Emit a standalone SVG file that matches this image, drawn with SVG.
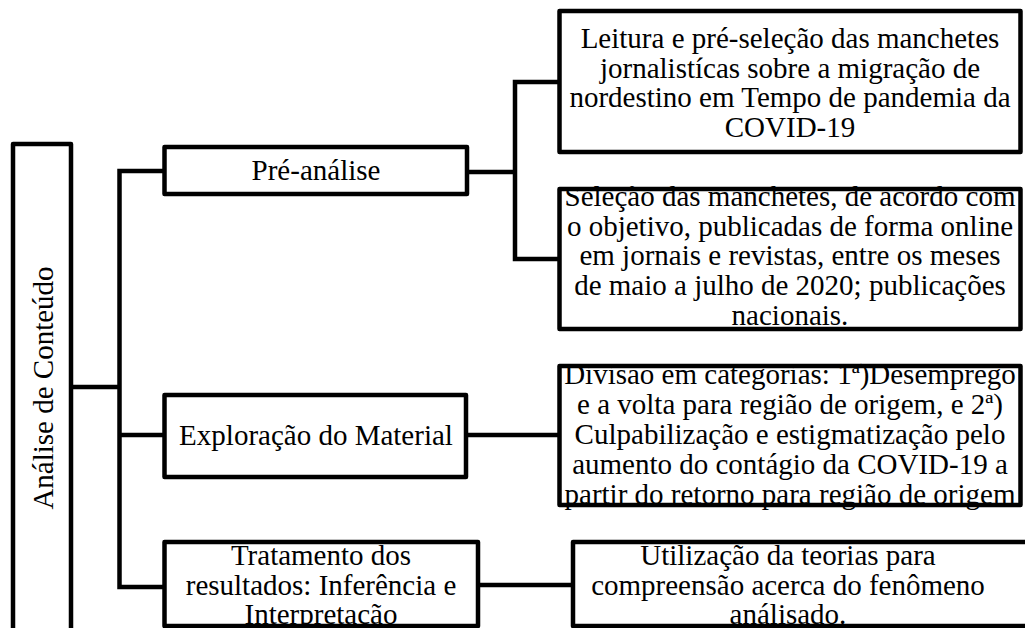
<svg xmlns="http://www.w3.org/2000/svg" width="1025" height="628" viewBox="0 0 1025 628">
<style>
.fill{fill:#fff;stroke:none}
.frame{fill:none;stroke:#000;stroke-width:4.5;stroke-linejoin:round}
.edge{fill:none;stroke:#000;stroke-width:4.5;stroke-linejoin:miter}
.t{font-family:'Liberation Serif',serif;font-size:29px;fill:#000;text-anchor:middle}
</style>
<rect width="1025" height="628" fill="#fff"/>
<g id="connectors">
<path class="edge" d="M71 387H119.5"/>
<path class="edge" d="M164.5 171H119.5V587H164.5"/>
<path class="edge" d="M119.5 435H164.5"/>
<path class="edge" d="M467 172H515"/>
<path class="edge" d="M559.5 82H515V259H559.5"/>
<path class="edge" d="M466 435H559.5"/>
<path class="edge" d="M478 585H573"/>
</g>
<g id="analise">
<rect class="fill" x="13" y="144" width="58" height="520"/>
<text class="t" transform="translate(53,388) rotate(-90)">Análise de Conteúdo</text>
<rect class="frame" x="13" y="144" width="58" height="520"/>
</g>
<g id="pre-analise">
<rect class="fill" x="164.5" y="147" width="302.5" height="47"/>
<text class="t" x="316" y="180">Pré-análise</text>
<rect class="frame" x="164.5" y="147" width="302.5" height="47"/>
</g>
<g id="leitura">
<rect class="fill" x="559.5" y="11" width="461" height="141"/>
<text class="t" x="790" y="48">Leitura e pré-seleção das manchetes</text>
<text class="t" x="790" y="78">jornalistícas sobre a migração de</text>
<text class="t" x="790" y="107">nordestino em Tempo de pandemia da</text>
<text class="t" x="790" y="137">COVID-19</text>
<rect class="frame" x="559.5" y="11" width="461" height="141"/>
</g>
<g id="selecao">
<rect class="fill" x="559.5" y="189" width="461" height="140"/>
<text class="t" x="790" y="206">Seleção das manchetes, de acordo com</text>
<text class="t" x="790" y="235.5">o objetivo, publicadas de forma online</text>
<text class="t" x="790" y="265">em jornais e revistas, entre os meses</text>
<text class="t" x="790" y="294.5">de maio a julho de 2020; publicações</text>
<text class="t" x="790" y="325">nacionais.</text>
<rect class="frame" x="559.5" y="189" width="461" height="140"/>
</g>
<g id="exploracao">
<rect class="fill" x="164.5" y="395" width="301.5" height="82"/>
<text class="t" x="316" y="445">Exploração do Material</text>
<rect class="frame" x="164.5" y="395" width="301.5" height="82"/>
</g>
<g id="divisao">
<rect class="fill" x="559.5" y="366" width="461" height="139"/>
<text class="t" x="790" y="384">Divisão em categorias: 1ª)Desemprego</text>
<text class="t" x="790" y="414">e a volta para região de origem, e 2ª)</text>
<text class="t" x="790" y="444">Culpabilização e estigmatização pelo</text>
<text class="t" x="790" y="474">aumento do contágio da COVID-19 a</text>
<text class="t" x="790" y="504">partir do retorno para região de origem</text>
<rect class="frame" x="559.5" y="366" width="461" height="139"/>
</g>
<g id="tratamento">
<rect class="fill" x="164.5" y="542" width="313.5" height="84"/>
<text class="t" x="321" y="565">Tratamento dos</text>
<text class="t" x="321" y="595">resultados: Inferência e</text>
<text class="t" x="321" y="624">Interpretação</text>
<rect class="frame" x="164.5" y="542" width="313.5" height="84"/>
</g>
<g id="utilizacao">
<rect class="fill" x="573" y="542" width="462" height="84"/>
<text class="t" x="788" y="565">Utilização da teorias para</text>
<text class="t" x="788" y="595">compreensão acerca do fenômeno</text>
<text class="t" x="788" y="624">análisado.</text>
<rect class="frame" x="573" y="542" width="462" height="84"/>
</g>
</svg>
